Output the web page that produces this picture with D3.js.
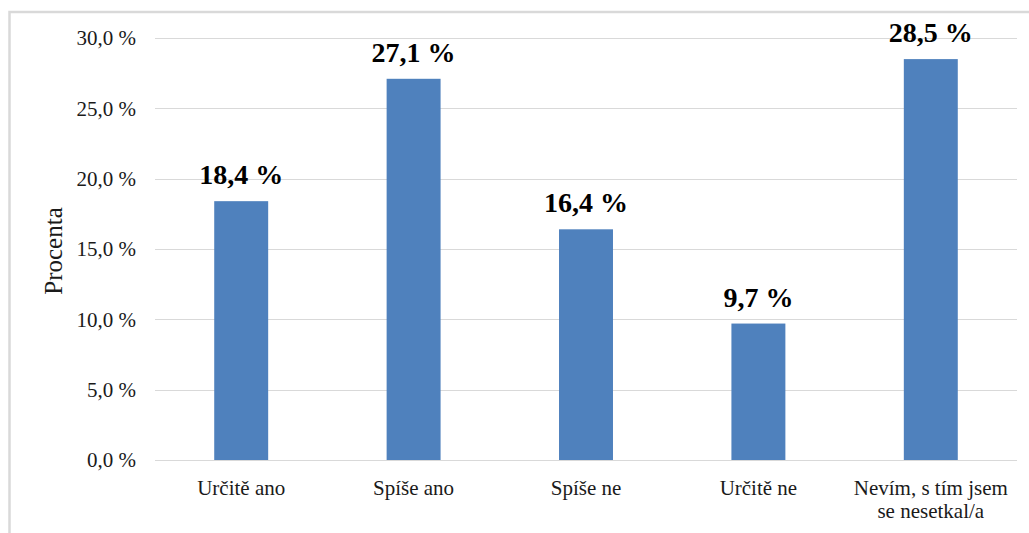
<!DOCTYPE html>
<html>
<head>
<meta charset="utf-8">
<script src="https://cdn.jsdelivr.net/npm/d3@7"></script>
<style>
  body { margin: 0; background: #fff; }
  svg text { font-family: 'Liberation Serif', 'DejaVu Serif', serif; }
</style>
</head>
<body>
<div id="chart"></div>
<script>
const categories = [
  ['Určitě ano'],
  ['Spíše ano'],
  ['Spíše ne'],
  ['Určitě ne'],
  ['Nevím, s tím jsem', 'se nesetkal/a'],
]
const values = [18.4, 27.1, 16.4, 9.7, 28.5]
const yTicks = [0, 5, 10, 15, 20, 25, 30]

const W = 1029
const H = 533
const margin = { left: 155, right: 12, top: 38, bottom: 73 }

const fmt = (v, digits) => v.toFixed(digits).replace('.', ',') + ' %'

const svg = d3.select('#chart').append('svg').attr('width', W).attr('height', H)

// outer frame (right/bottom run off the picture)
svg
  .append('rect')
  .attr('x', 9.5)
  .attr('y', 12)
  .attr('width', W + 20)
  .attr('height', H + 20)
  .attr('fill', '#fff')
  .attr('stroke', '#d9d9d9')
  .attr('stroke-width', 2.5)

const x = d3
  .scaleBand()
  .domain(categories.map((c) => c.join(' ')))
  .range([margin.left, W - margin.right])
  .padding(0)

const y = d3
  .scaleLinear()
  .domain([0, 30])
  .range([H - margin.bottom, margin.top])

const barW = x.bandwidth() * 0.313

// gridlines
svg
  .append('g')
  .selectAll('line')
  .data(yTicks)
  .join('line')
  .attr('x1', margin.left)
  .attr('x2', W - margin.right)
  .attr('y1', (d) => Math.round(y(d)) + 0.5)
  .attr('y2', (d) => Math.round(y(d)) + 0.5)
  .attr('stroke', '#d9d9d9')
  .attr('stroke-width', 1)

// y tick labels
svg
  .append('g')
  .selectAll('text')
  .data(yTicks)
  .join('text')
  .attr('x', 136)
  .attr('y', (d) => y(d))
  .attr('dy', '0.35em')
  .attr('text-anchor', 'end')
  .attr('font-size', 21)
  .attr('fill', '#1a1a1a')
  .text((d) => fmt(d, 1))

// y title
svg
  .append('text')
  .attr('transform', `translate(62, ${251}) rotate(-90)`)
  .attr('text-anchor', 'middle')
  .attr('font-size', 25)
  .attr('fill', '#1a1a1a')
  .text('Procenta')

const rows = categories.map((c, i) => ({ key: c.join(' '), lines: c, val: values[i] }))

// bars
svg
  .append('g')
  .selectAll('rect')
  .data(rows)
  .join('rect')
  .attr('x', (d) => x(d.key) + (x.bandwidth() - barW) / 2)
  .attr('y', (d) => y(d.val))
  .attr('width', barW)
  .attr('height', (d) => y(0) - y(d.val))
  .attr('fill', '#4f81bd')

// value labels
svg
  .append('g')
  .selectAll('text')
  .data(rows)
  .join('text')
  .attr('x', (d) => x(d.key) + x.bandwidth() / 2)
  .attr('y', (d) => y(d.val) - 17)
  .attr('text-anchor', 'middle')
  .attr('font-size', 28)
  .attr('font-weight', 'bold')
  .attr('fill', '#000')
  .text((d) => fmt(d.val, 1))

// category labels
const cat = svg
  .append('g')
  .selectAll('text')
  .data(rows)
  .join('text')
  .attr('x', (d) => x(d.key) + x.bandwidth() / 2)
  .attr('y', 495)
  .attr('text-anchor', 'middle')
  .attr('font-size', 21)
  .attr('fill', '#1a1a1a')

cat
  .selectAll('tspan')
  .data((d) => d.lines.map((t) => ({ t, cx: x(d.key) + x.bandwidth() / 2 })))
  .join('tspan')
  .attr('x', (d) => d.cx)
  .attr('dy', (d, i) => (i === 0 ? 0 : 23))
  .text((d) => d.t)
</script>
</body>
</html>
